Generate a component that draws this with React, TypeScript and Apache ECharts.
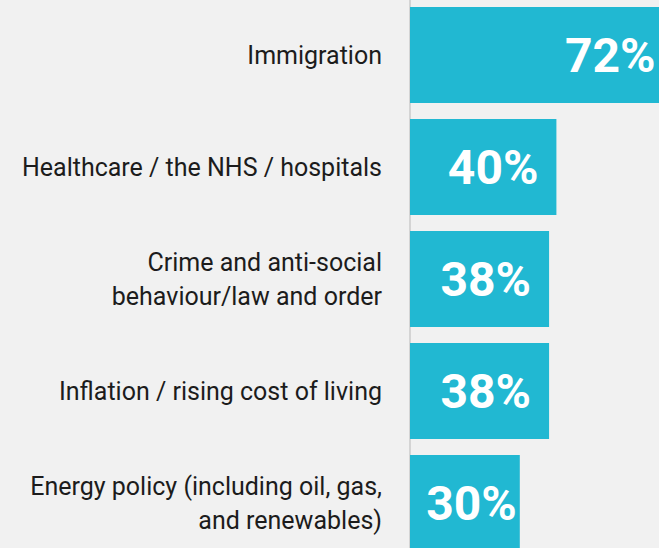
import React, { useEffect, useRef } from "react";
import * as echarts from "echarts";

const categories = [
  "Immigration",
  "Healthcare / the NHS / hospitals",
  "Crime and anti-social\nbehaviour/law and order",
  "Inflation / rising cost of living",
  "Energy policy (including oil, gas,\nand renewables)",
];
const values = [72, 40, 38, 38, 30];

export default function App() {
  const ref = useRef<HTMLDivElement>(null);
  useEffect(() => {
    if (!ref.current) return;
    const chart = echarts.init(ref.current, null, { renderer: "svg" });
    chart.setOption({
      animation: false,
      backgroundColor: "#f1f1f1",
      grid: { left: 410, top: 0, width: 366, height: 560 },
      xAxis: {
        type: "value",
        min: 0,
        max: 100,
        show: false,
      },
      yAxis: {
        type: "category",
        data: categories,
        inverse: true,
        offset: 1,
        axisLine: { show: true, lineStyle: { color: "#d4d4d4", width: 2 } },
        axisTick: { show: false },
        axisLabel: {
          margin: 27,
          color: "#1c1c1c",
          fontFamily: "Roboto",
          fontSize: 25,
          lineHeight: 34,
          align: "right",
        },
      },
      series: [
        {
          type: "bar",
          barWidth: 96,
          data: values.map((v) => ({
            value: v,
            label: v < 35 ? { distance: 3 } : undefined,
          })),
          itemStyle: { color: "#21b8d2" },
          label: {
            show: true,
            position: "insideRight",
            distance: 18,
            color: "#ffffff",
            fontFamily: "Roboto",
            fontWeight: "bold",
            fontSize: 48,
            formatter: (p: any) => p.value + "%",
          },
        },
      ],
    });
    return () => chart.dispose();
  }, []);
  return (
    <div
      ref={ref}
      style={{ position: "fixed", left: 0, top: -1, width: 800, height: 580 }}
    />
  );
}
